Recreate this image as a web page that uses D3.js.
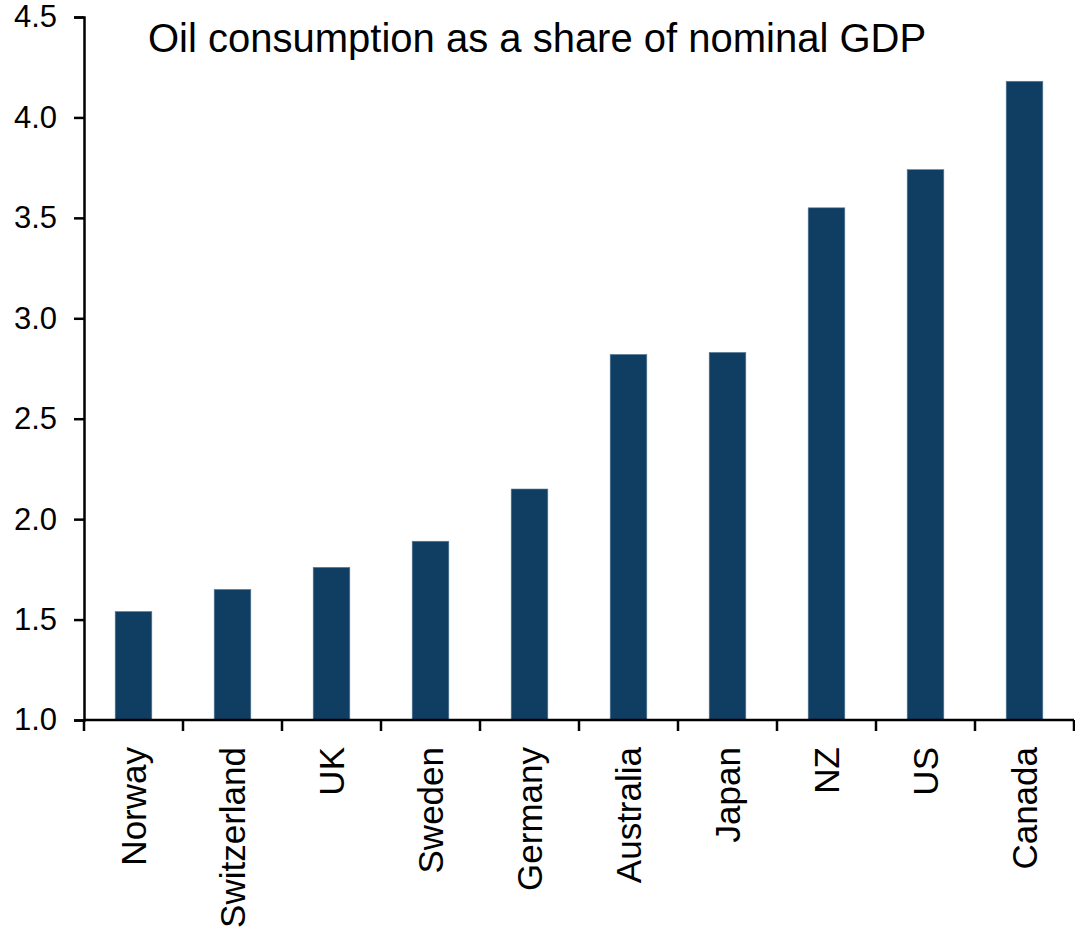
<!DOCTYPE html>
<html>
<head>
<meta charset="utf-8">
<script src="https://cdn.jsdelivr.net/npm/d3@7"></script>
<style>
  html, body { margin: 0; padding: 0; background: #fff; }
  text { font-family: Arial, "Liberation Sans", sans-serif; fill: #000; }
</style>
</head>
<body>
<svg id="chart" width="1075" height="935"></svg>
<script>
const categories = ["Norway", "Switzerland", "UK", "Sweden", "Germany", "Australia", "Japan", "NZ", "US", "Canada"];
const values = [1.54, 1.65, 1.76, 1.89, 2.15, 2.82, 2.83, 3.55, 3.74, 4.18];
const yTicks = [1.0, 1.5, 2.0, 2.5, 3.0, 3.5, 4.0, 4.5];
const title = "Oil consumption as a share of nominal GDP";

const svg = d3.select("#chart");
const mLeft = 84, mRight = 1074, mTop = 17, mBottom = 720;

const x = d3.scaleBand().domain(categories).range([mLeft, mRight])
  .paddingInner(0.63).paddingOuter(0.315);
const y = d3.scaleLinear().domain([1, 4.5]).range([mBottom, mTop]);

// bars
svg.append("g").selectAll("rect").data(categories).join("rect")
  .attr("x", d => x(d))
  .attr("width", x.bandwidth())
  .attr("y", (d, i) => y(values[i]))
  .attr("height", (d, i) => y(1) - y(values[i]))
  .attr("fill", "#103e63")
  .attr("stroke", "#5a7d9b")
  .attr("stroke-width", 0.6);

// y axis
const yAxis = svg.append("g").attr("transform", `translate(${mLeft},0)`)
  .call(d3.axisLeft(y).tickValues(yTicks).tickFormat(d3.format(".1f")).tickSize(10).tickPadding(17));
yAxis.select(".domain").attr("stroke", "#000").attr("stroke-width", 2.5);
yAxis.selectAll(".tick line").attr("stroke", "#000").attr("stroke-width", 2.5);
yAxis.selectAll(".tick text").attr("font-size", 31).attr("font-family", "Arial, 'Liberation Sans', sans-serif").attr("fill", "#000");

// x axis line
svg.append("line").attr("x1", mLeft).attr("x2", mRight).attr("y1", mBottom).attr("y2", mBottom)
  .attr("stroke", "#000").attr("stroke-width", 2.5);

// x ticks at band boundaries
const step = x.step();
const x0 = x(categories[0]) - step * x.paddingInner() / 2;
const bounds = d3.range(categories.length + 1).map(i => x0 + i * step);
svg.append("g").selectAll("line").data(bounds).join("line")
  .attr("x1", d => d).attr("x2", d => d)
  .attr("y1", mBottom).attr("y2", mBottom + 11)
  .attr("stroke", "#000").attr("stroke-width", 2.5);

// x labels rotated
svg.append("g").selectAll("text").data(categories).join("text")
  .attr("transform", d => `translate(${x(d) + x.bandwidth() / 2},747) rotate(-90)`)
  .attr("text-anchor", "end")
  .attr("dy", "0.35em")
  .attr("font-size", 35)
  .text(d => d);

// title
svg.append("text").attr("x", 148).attr("y", 52)
  .attr("font-size", 40)
  .text(title);
</script>
</body>
</html>
